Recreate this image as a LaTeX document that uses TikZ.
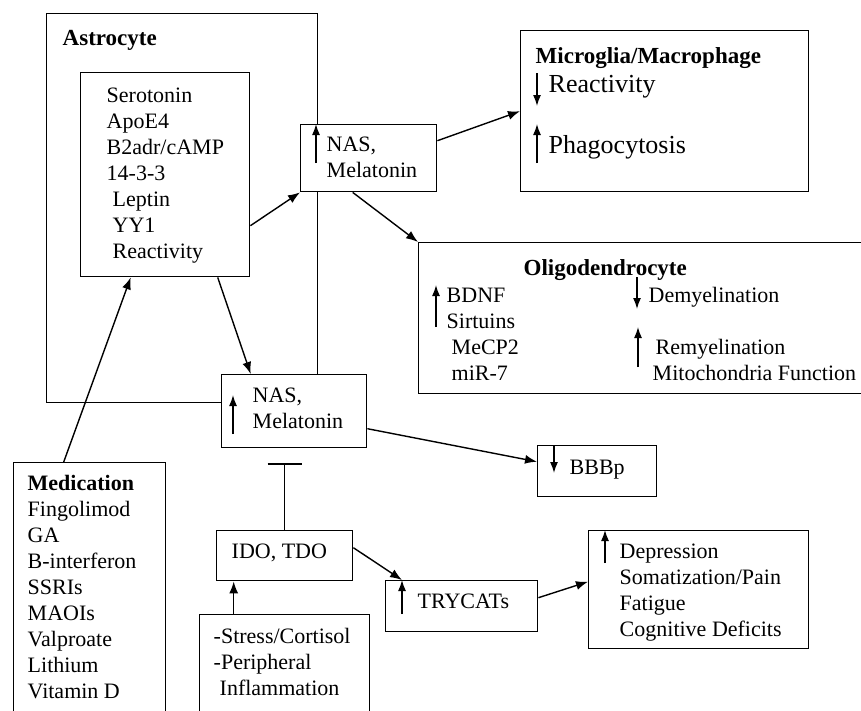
\documentclass[tikz,border=0pt]{standalone}
\usepackage{fontspec}
\setmainfont{Liberation Serif}
\usetikzlibrary{arrows.meta}

\newcommand\mtxt{\fontsize{22}{26}\selectfont}
\newcommand\mhead{\fontsize{23}{26}\selectfont\bfseries}
\newcommand\mbig{\fontsize{26}{30}\selectfont}

\tikzset{
  box/.style={draw, fill=white, inner sep=0pt, anchor=north west},
  txt/.style={anchor=base west, inner sep=0pt, font=\mtxt},
  blk/.style={anchor=north west, inner sep=0pt, align=left, font=\mtxt},
  hd/.style={anchor=base west, inner sep=0pt, font=\mhead},
  conn/.style={-{Latex[length=12pt,width=9pt]}},
  ind/.style={-{Latex[length=11pt,width=8pt]}},
}

\begin{document}
\begin{tikzpicture}[x=1pt, y=-1pt, line width=1.4pt]
  \clip (0,0) rectangle (861,710);

  % boxes
  \node[box, minimum width=271pt, minimum height=389pt] (astro) at (46,13) {};
  \node[box, minimum width=169pt, minimum height=204pt] (inner) at (80,72) {};
  \node[box, minimum width=136pt, minimum height=67pt] (nasup) at (300,124) {};
  \node[box, minimum width=288pt, minimum height=161pt] (micro) at (520,30) {};
  \node[box, minimum width=500pt, minimum height=151pt] (oligo) at (418,242) {};
  \node[box, minimum width=145pt, minimum height=73pt] (naslow) at (221,374) {};
  \node[box, minimum width=119pt, minimum height=51pt] (bbb) at (537,445) {};
  \node[box, minimum width=136pt, minimum height=50pt] (ido) at (216,530) {};
  \node[box, minimum width=170pt, minimum height=150pt] (stress) at (199,614) {};
  \node[box, minimum width=152pt, minimum height=300pt] (med) at (13,462) {};
  \node[box, minimum width=152pt, minimum height=51pt] (tryc) at (385,580) {};
  \node[box, minimum width=220pt, minimum height=118pt] (symp) at (588,530) {};

  % texts
  \node[hd] (astrot) at (62,45) {Astrocyte};
  \node[blk] (innert) at (106,83.8) {\strut Serotonin\\ApoE4\\B2adr/cAMP\\14-3-3\\
    \hspace*{6pt}Leptin\\\hspace*{6pt}YY1\\\hspace*{6pt}Reactivity};
  \node[blk] (nasupt) at (326,132.8) {\strut NAS,\\Melatonin};
  \node[hd] (microt) at (535,63) {Microglia/Macrophage};
  \node[txt, font=\mbig] (react) at (548,92) {Reactivity};
  \node[txt, font=\mbig] (phago) at (548,153) {Phagocytosis};
  \node[hd] (oligot) at (523,275) {Oligodendrocyte};
  \node[blk] (oligol) at (446,283.8) {\strut BDNF\\Sirtuins\\\hspace*{5pt}MeCP2\\\hspace*{5pt}miR-7};
  \node[txt] (demy) at (648,302) {Demyelination};
  \node[txt] (remy) at (655,354) {Remyelination};
  \node[txt] (mito) at (652,380) {Mitochondria Function};
  \node[blk] (naslowt) at (252,383.8) {\strut NAS,\\Melatonin};
  \node[txt] (bbbt) at (569,474) {BBBp};
  \node[txt] (idot) at (231,558) {IDO, TDO};
  \node[blk] (stresst) at (213,624.8) {\strut -Stress/Cortisol\\-Peripheral\\\hspace*{6pt}Inflammation};
  \node[blk] (medt) at (27,471.8) {\strut\textbf{Medication}\\Fingolimod\\GA\\B-interferon\\SSRIs\\MAOIs\\Valproate\\Lithium\\Vitamin D};
  \node[txt] (trycat) at (417,608) {TRYCATs};
  \node[blk] (sympt) at (619,539.8) {\strut Depression\\Somatization/Pain\\Fatigue\\Cognitive Deficits};

  % up / down marks
  \draw[ind] (316,163) -- (316,124);
  \draw[ind] (537,73) -- (537,106);
  \draw[ind] (537,163) -- (537,124);
  \draw[ind] (436,327) -- (436,285);
  \draw[ind] (637,277) -- (637,309);
  \draw[ind] (638,367) -- (638,327);
  \draw[ind] (233,434) -- (233,395);
  \draw[ind] (554,445) -- (554,473);
  \draw[ind] (402,614) -- (402,580);
  \draw[ind] (605,563) -- (605,530);

  % connectors
  \draw[conn] ([xshift=-26pt]med.north) -- ([xshift=-34.5pt]inner.south);
  \draw[conn] ([yshift=-51pt]inner.east) -- (nasup.south west);
  \draw[conn] ([xshift=52.5pt]inner.south) -- ([xshift=-43.5pt]naslow.north);
  \draw[conn] ([yshift=17.5pt]nasup.east) -- (micro.west);
  \draw[conn] ([xshift=-16pt]nasup.south) -- (oligo.north west);
  \draw[conn] ([yshift=-17.5pt]naslow.east) -- ([yshift=9.5pt]bbb.west);
  \draw[-{Bar[width=34pt]}, shorten >=15pt] (ido.north) -- (ido.north |- naslow.south);
  \draw[conn] ([xshift=-51pt]ido.south |- stress.north) -- ([xshift=-51pt]ido.south);
  \draw[conn] ([yshift=8pt]ido.east) -- ([xshift=17pt]tryc.north west);
  \draw[conn] ([yshift=8.5pt]tryc.east) -- ([yshift=8pt]symp.west);
\end{tikzpicture}
\end{document}
